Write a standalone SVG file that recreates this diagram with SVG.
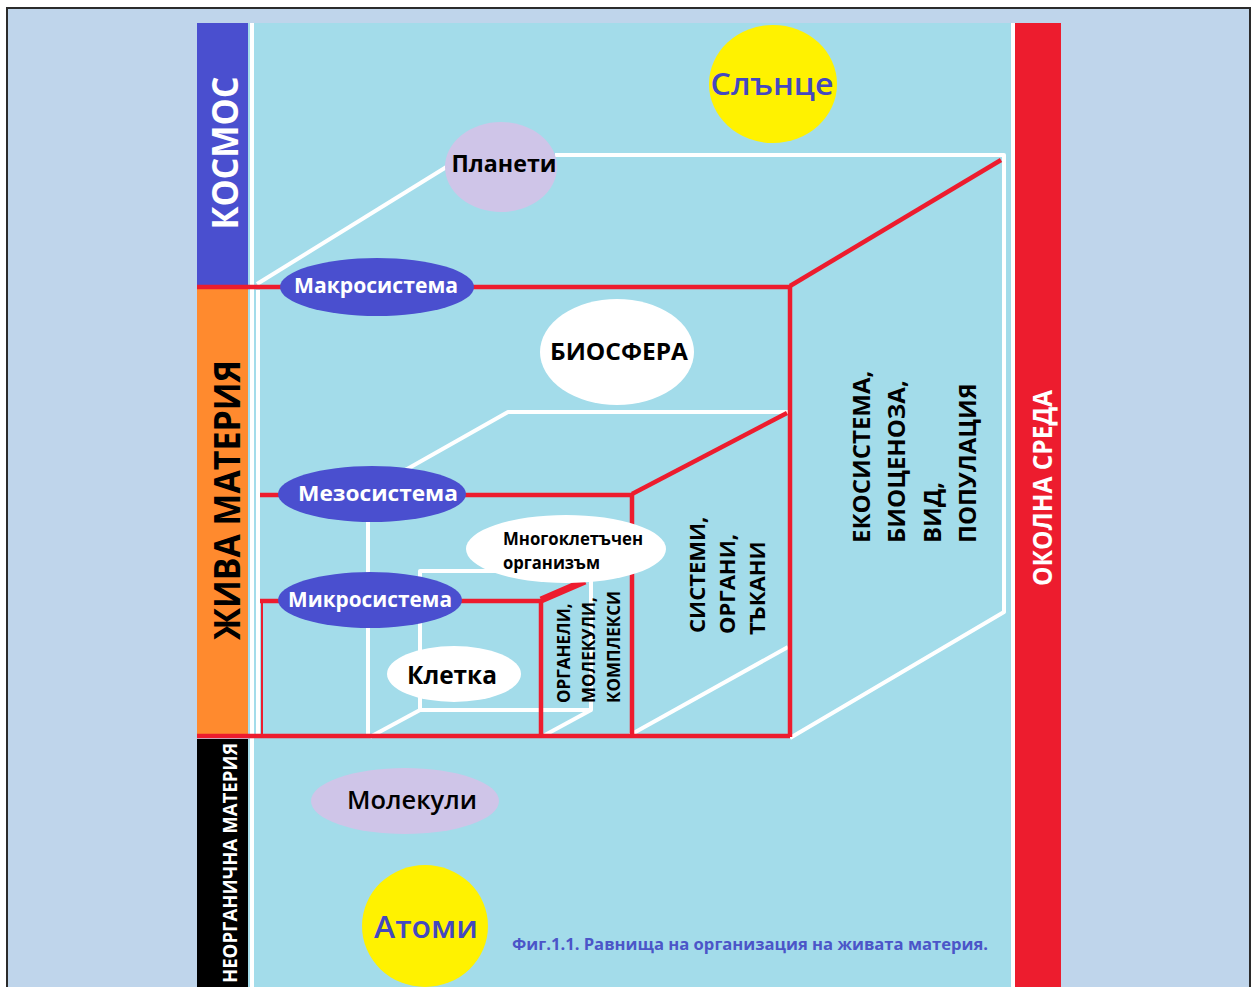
<svg xmlns="http://www.w3.org/2000/svg" width="1251" height="987" viewBox="0 0 1251 987">
<style>
.w{stroke:#fff;stroke-width:4;fill:none;stroke-linejoin:round}
.r{stroke:#ED1C2E;stroke-width:4.5;fill:none}
.t{font-family:"Open Sans","DejaVu Sans",sans-serif;font-weight:700}
.m{font-family:"Open Sans","DejaVu Sans",sans-serif;font-weight:600}
.blue{fill:#4A4FCF}
.yel{fill:#FFF200}
.lav{fill:#CFC5E8}
.wh{fill:#fff}
</style>
<rect x="0" y="0" width="1251" height="987" fill="#fff"/>
<rect x="7" y="8" width="1243" height="990" fill="#BFD5EB" stroke="#2b2b2b" stroke-width="2"/>
<g id="panel">
<rect x="248" y="23" width="765" height="964" fill="#A3DCEA"/>
<rect x="197" y="23" width="51" height="264" fill="#4A4FCF"/>
<rect x="197" y="289" width="51" height="448" fill="#FF8A2E"/>
<rect x="197" y="739" width="51" height="248" fill="#000"/>
<rect x="1011" y="23" width="4" height="964" fill="#fff"/>
<rect x="1015" y="23" width="46" height="964" fill="#ED1C2E"/>
</g>
<g id="connectors">
<path class="w" d="M252,23 V987"/>
<path class="w" d="M258,290 V737"/>
<path class="w" d="M257,284 L448,166"/>
<path class="w" d="M555,155 H1004 V612 L790,738"/>
<path class="w" d="M370,490 L508,412 H788"/>
<path class="w" d="M368,520 V737"/>
<path class="w" d="M630,735 L788,647"/>
<path class="w" d="M420,571 H591 V710 H420 Z"/>
<path class="w" d="M370,737 L420,710"/>
<path class="w" d="M545,735 L591,710"/>
<path class="r" d="M197,287 H790 V737"/>
<path class="r" d="M197,736 H790"/>
<path class="r" d="M790,286 L1001,160"/>
<path class="r" d="M260,495 H632 V737"/>
<path class="r" d="M632,494 L787,413"/>
<path class="r" d="M260,601 H541 V737"/>
<path class="r" d="M262,601 V736" style="stroke-width:2"/>
<path class="r" d="M541,600 L585,581" style="stroke-width:7"/>
</g>
<g id="kosmos"><text class="t" fill="#fff" font-size="35" text-anchor="middle" textLength="153" lengthAdjust="spacingAndGlyphs" transform="translate(238,153) rotate(-90)">КОСМОС</text></g>
<g id="zhiva"><text class="t" fill="#000" font-size="36" text-anchor="middle" textLength="280" lengthAdjust="spacingAndGlyphs" transform="translate(240,500) rotate(-90)">ЖИВА МАТЕРИЯ</text></g>
<g id="neorg"><text class="t" fill="#fff" font-size="20" text-anchor="end" textLength="240" lengthAdjust="spacingAndGlyphs" transform="translate(237,743) rotate(-90)">НЕОРГАНИЧНА МАТЕРИЯ</text></g>
<g id="okolna"><text class="t" fill="#fff" font-size="27" text-anchor="middle" textLength="196" lengthAdjust="spacingAndGlyphs" transform="translate(1052,488) rotate(-90)">ОКОЛНА СРЕДА</text></g>
<g id="slance"><ellipse class="yel" cx="773" cy="84" rx="64" ry="59"/><text class="m" fill="#4448C0" font-size="30" text-anchor="middle" x="772" y="95" textLength="123" lengthAdjust="spacingAndGlyphs">Слънце</text></g>
<g id="planeti"><ellipse class="lav" cx="501" cy="167" rx="56" ry="45"/><text class="t" fill="#000" font-size="23" text-anchor="middle" x="504" y="172" textLength="105" lengthAdjust="spacingAndGlyphs">Планети</text></g>
<g id="makro"><ellipse class="blue" cx="377" cy="287" rx="97" ry="29"/><text class="t" fill="#fff" font-size="21" text-anchor="middle" x="376" y="293" textLength="164" lengthAdjust="spacingAndGlyphs">Макросистема</text></g>
<g id="biosfera"><ellipse class="wh" cx="617" cy="352" rx="77" ry="53"/><text class="t" fill="#000" font-size="24" text-anchor="middle" x="619" y="360" textLength="138" lengthAdjust="spacingAndGlyphs">БИОСФЕРА</text></g>
<g id="mezo"><ellipse class="blue" cx="372" cy="494" rx="94" ry="28"/><text class="t" fill="#fff" font-size="21" text-anchor="middle" x="378" y="501" textLength="160" lengthAdjust="spacingAndGlyphs">Мезосистема</text></g>
<g id="mnogo"><ellipse class="wh" cx="566" cy="549" rx="100" ry="34"/><text class="t" fill="#000" font-size="17"><tspan x="503" y="545" textLength="140" lengthAdjust="spacingAndGlyphs">Многоклетъчен</tspan><tspan x="503" y="569" textLength="97" lengthAdjust="spacingAndGlyphs">организъм</tspan></text></g>
<g id="mikro"><ellipse class="blue" cx="370" cy="600" rx="92" ry="28"/><text class="t" fill="#fff" font-size="21" text-anchor="middle" x="370" y="607" textLength="164" lengthAdjust="spacingAndGlyphs">Микросистема</text></g>
<g id="kletka"><ellipse class="wh" cx="454" cy="674" rx="67" ry="28"/><text class="t" fill="#000" font-size="25" text-anchor="middle" x="452" y="684" textLength="90" lengthAdjust="spacingAndGlyphs">Клетка</text></g>
<g id="organeli">
<text class="t" fill="#000" font-size="17" transform="translate(570,703) rotate(-90)">ОРГАНЕЛИ,</text>
<text class="t" fill="#000" font-size="17" transform="translate(595,703) rotate(-90)">МОЛЕКУЛИ,</text>
<text class="t" fill="#000" font-size="17" transform="translate(620,703) rotate(-90)">КОМПЛЕКСИ</text>
</g>
<g id="sistemi">
<text class="t" fill="#000" font-size="22" transform="translate(705,633) rotate(-90)">СИСТЕМИ,</text>
<text class="t" fill="#000" font-size="22" transform="translate(735,634) rotate(-90)">ОРГАНИ,</text>
<text class="t" fill="#000" font-size="22" transform="translate(765,635) rotate(-90)">ТЪКАНИ</text>
</g>
<g id="ekosistema">
<text class="t" fill="#000" font-size="24" transform="translate(870,543) rotate(-90)">ЕКОСИСТЕМА,</text>
<text class="t" fill="#000" font-size="24" transform="translate(905,543) rotate(-90)">БИОЦЕНОЗА,</text>
<text class="t" fill="#000" font-size="24" transform="translate(941,543) rotate(-90)">ВИД,</text>
<text class="t" fill="#000" font-size="24" transform="translate(976,543) rotate(-90)">ПОПУЛАЦИЯ</text>
</g>
<g id="molekuli"><ellipse class="lav" cx="405" cy="801" rx="94" ry="33"/><text class="m" fill="#000" font-size="25" text-anchor="middle" x="412" y="809" textLength="130" lengthAdjust="spacingAndGlyphs">Молекули</text></g>
<g id="atomi"><ellipse class="yel" cx="425" cy="926" rx="63" ry="61"/><text class="m" fill="#4448C0" font-size="30" text-anchor="middle" x="426" y="938" textLength="104" lengthAdjust="spacingAndGlyphs">Атоми</text></g>
<g id="caption"><text class="t" fill="#4B55C8" font-size="16" x="512" y="950" textLength="476" lengthAdjust="spacingAndGlyphs">Фиг.1.1. Равнища на организация на живата материя.</text></g>
</svg>
